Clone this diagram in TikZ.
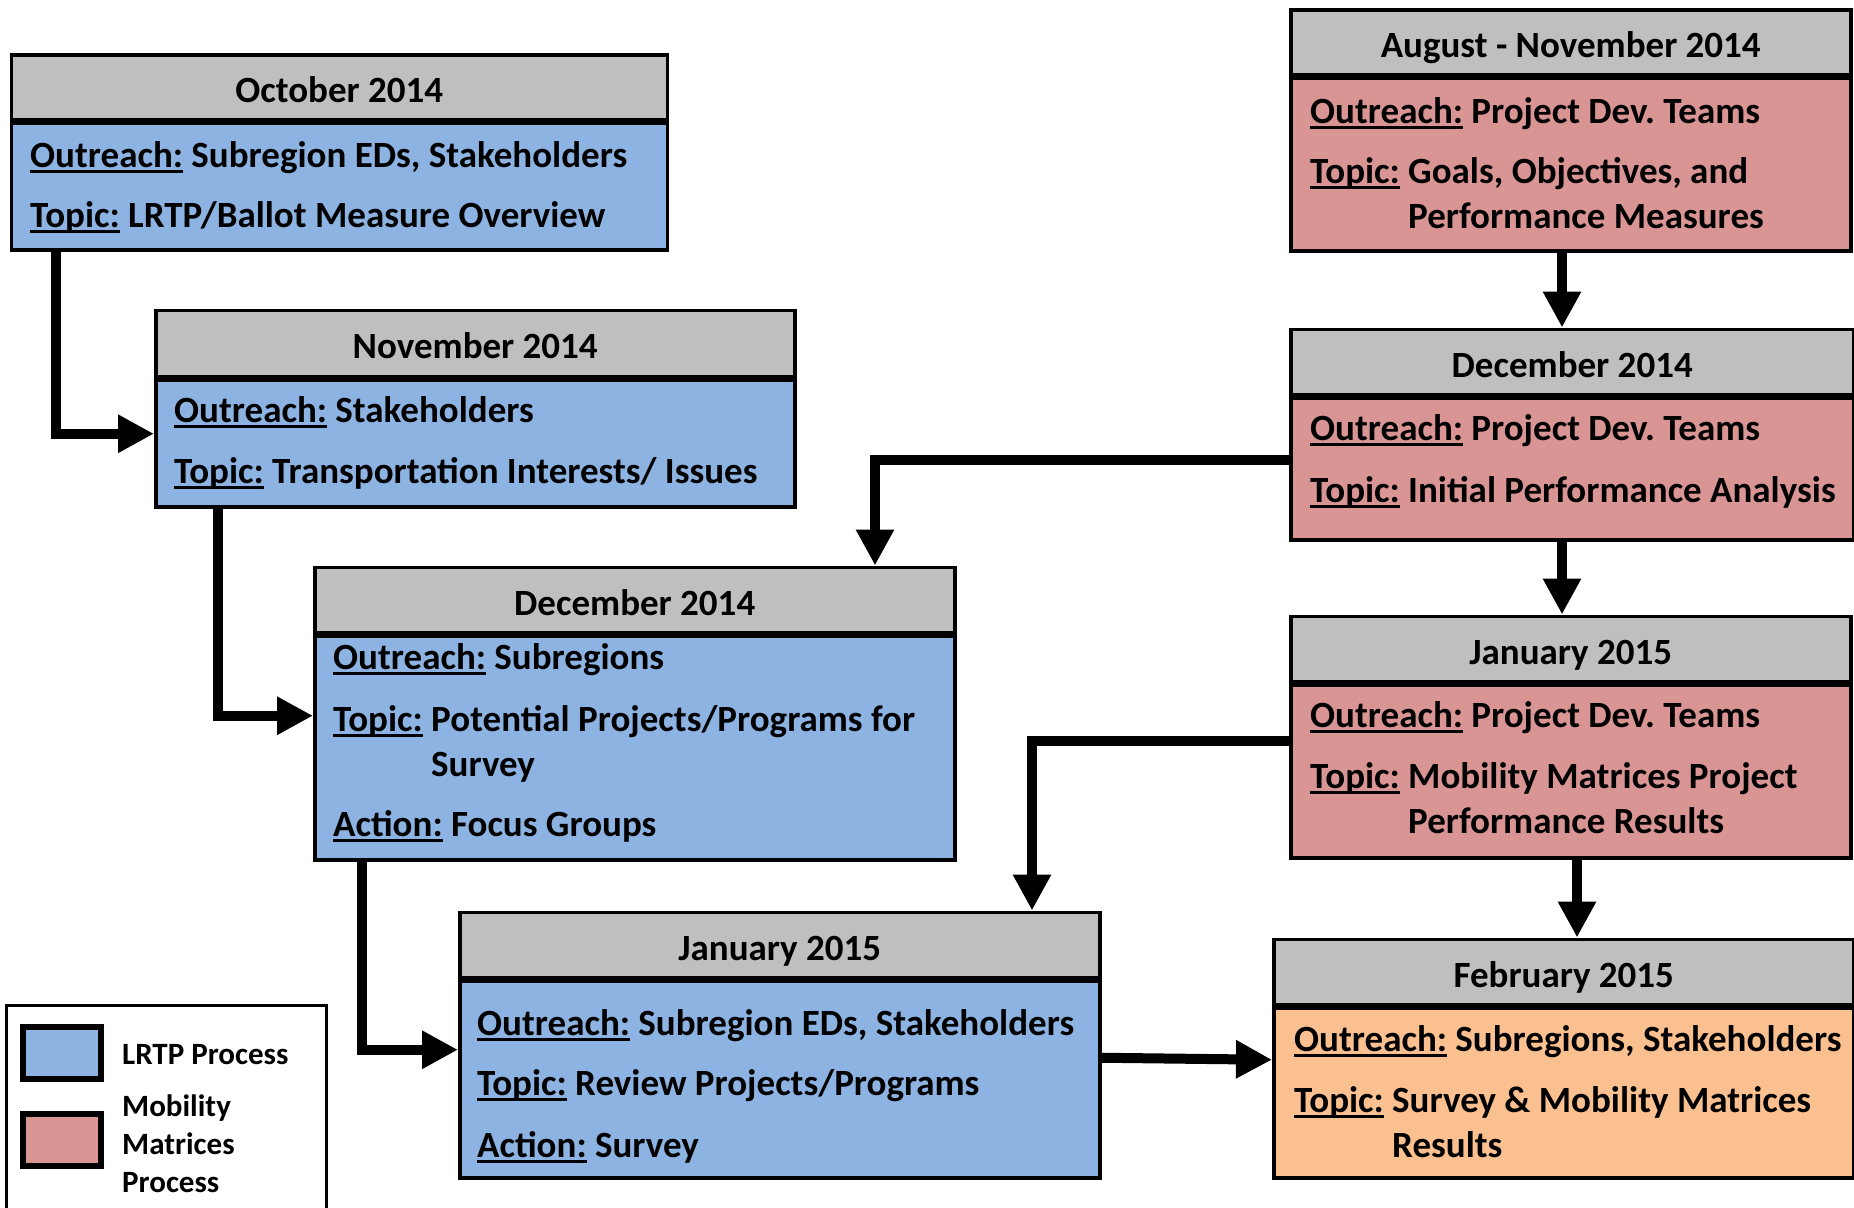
\documentclass[tikz,border=0pt]{standalone}
\usepackage{fontspec}
\setmainfont{Carlito}
\frenchspacing
\usetikzlibrary{arrows.meta,calc}
\definecolor{hdr}{HTML}{BFBFBF}
\definecolor{lrtp}{HTML}{8DB3E2}
\definecolor{mmp}{HTML}{D99594}
\definecolor{fin}{HTML}{FAC090}
\newcommand\ulab[1]{\setbox0=\hbox{#1}\rlap{\rule[-5.5pt]{\wd0}{2.8pt}}\box0\relax}
\newcommand\wrapt[1]{\begin{tabular}[t]{@{}l@{}}#1\end{tabular}}
\tikzset{
 boxbody/.style={draw, line width=3.5pt, rectangle, inner sep=0pt, anchor=north west},
 boxhead/.style={draw, line width=3.5pt, fill=hdr, inner sep=0pt, anchor=south west, text height=30.5pt, text depth=0pt, font=\bfseries\fontsize{37}{44}\selectfont},
 txt/.style={anchor=base west, inner sep=0pt, font=\bfseries\fontsize{37}{45}\selectfont},
 legtxt/.style={anchor=base west, inner sep=0pt, font=\bfseries\fontsize{31}{38}\selectfont},
 arr/.style={line width=10pt, -{Triangle[length=36pt,width=36pt]}},
 swatch/.style={draw, line width=6pt, inner sep=0pt, minimum width=78pt, minimum height=52pt, anchor=north west},
}
\begin{document}
\begin{tikzpicture}[x=1pt,y=-1pt]
\useasboundingbox (0,0) rectangle (1854,1207);
\clip (0,0) rectangle (1854,1207);
% ---------- LRTP boxes ----------
\node[boxbody, fill=lrtp, minimum width=656pt, minimum height=127pt] (b1) at (9.5,121) {};
\node[boxhead, minimum width=656pt, minimum height=64pt] (h1) at (b1.north west) {October 2014};
\node[txt] (t1a) at (30,167) {\ulab{Outreach:} Subregion EDs, Stakeholders};
\node[txt] (t1b) at (30,227) {\ulab{Topic:} LRTP/Ballot Measure Overview};

\node[boxbody, fill=lrtp, minimum width=639pt, minimum height=127pt] (b2) at (154,378) {};
\node[boxhead, minimum width=639pt, minimum height=66pt] (h2) at (b2.north west) {November 2014};
\node[txt] (t2a) at (174,422) {\ulab{Outreach:} Stakeholders};
\node[txt] (t2b) at (174,483) {\ulab{Topic:} Transportation Interests/ Issues};

\node[boxbody, fill=lrtp, minimum width=640pt, minimum height=224pt] (b3) at (313,634) {};
\node[boxhead, minimum width=640pt, minimum height=65pt] (h3) at (b3.north west) {December 2014};
\node[txt] (t3a) at (333,669) {\ulab{Outreach:} Subregions};
\node[txt] (t3b) at (333,731) {\ulab{Topic:} \wrapt{Potential Projects/Programs for\\Survey}};
\node[txt] (t3c) at (333,836) {\ulab{Action:} Focus Groups};

\node[boxbody, fill=lrtp, minimum width=640pt, minimum height=197pt] (b4) at (458,979) {};
\node[boxhead, minimum width=640pt, minimum height=65pt] (h4) at (b4.north west) {January 2015};
\node[txt] (t4a) at (477,1035) {\ulab{Outreach:} Subregion EDs, Stakeholders};
\node[txt] (t4b) at (477,1095) {\ulab{Topic:} Review Projects/Programs};
\node[txt] (t4c) at (477,1157) {\ulab{Action:} Survey};

% ---------- Mobility Matrices boxes ----------
\node[boxbody, fill=mmp, minimum width=560pt, minimum height=173pt] (b5) at (1289,76) {};
\node[boxhead, minimum width=560pt, minimum height=64pt] (h5) at (b5.north west) {August - November 2014};
\node[txt] (t5a) at (1310,123) {\ulab{Outreach:} Project Dev. Teams};
\node[txt] (t5b) at (1310,183) {\ulab{Topic:} \wrapt{Goals, Objectives, and\\Performance Measures}};

\node[boxbody, fill=mmp, minimum width=563pt, minimum height=142pt] (b6) at (1289,396) {};
\node[boxhead, minimum width=563pt, minimum height=65pt] (h6) at (b6.north west) {December 2014};
\node[txt] (t6a) at (1310,440) {\ulab{Outreach:} Project Dev. Teams};
\node[txt] (t6b) at (1310,502) {\ulab{Topic:} Initial Performance Analysis};

\node[boxbody, fill=mmp, minimum width=560pt, minimum height=173pt] (b7) at (1289,683) {};
\node[boxhead, minimum width=560pt, minimum height=65pt] (h7) at (b7.north west) {January 2015};
\node[txt] (t7a) at (1310,727) {\ulab{Outreach:} Project Dev. Teams};
\node[txt] (t7b) at (1310,788) {\ulab{Topic:} \wrapt{Mobility Matrices Project\\Performance Results}};

\node[boxbody, fill=fin, minimum width=580pt, minimum height=170pt] (b8) at (1272,1006) {};
\node[boxhead, minimum width=580pt, minimum height=65pt] (h8) at (b8.north west) {February 2015};
\node[txt] (t8a) at (1294,1051) {\ulab{Outreach:} Subregions, Stakeholders};
\node[txt] (t8b) at (1294,1112) {\ulab{Topic:} \wrapt{Survey \& Mobility Matrices\\Results}};

% ---------- connectors ----------
\draw[arr] ([xshift=46.5pt]b1.south west) |- ([yshift=9.5pt]b2.west);
\draw[arr] ([xshift=64pt]b2.south west) |- ([yshift=32pt]b3.west);
\draw[arr] ([xshift=49pt]b3.south west) |- ([yshift=29.5pt]b4.west);
\draw[arr] ([yshift=21.5pt]b4.east) -- ([yshift=33pt]b8.west);
\draw[arr] ([xshift=273pt]b5.south west) -- ([xshift=273pt]h6.north west);
\draw[arr] ([yshift=9pt]b6.west) -| ([xshift=562pt]h3.north west);
\draw[arr] ([xshift=273pt]b6.south west) -- ([xshift=273pt]h7.north west);
\draw[arr] ([yshift=30.5pt]b7.west) -| ([xshift=574pt]h4.north west);
\draw[arr] ([xshift=288pt]b7.south west) -- ([xshift=305pt]h8.north west);

% ---------- legend ----------
\node[draw, line width=3pt, fill=white, inner sep=0pt, minimum width=320pt, minimum height=215pt, anchor=north west] (leg) at (5,1004) {};
\node[swatch, fill=lrtp] (s1) at (20,1024) {};
\node[swatch, fill=mmp] (s2) at (20,1111) {};
\node[legtxt] (l1) at (122,1064) {LRTP Process};
\node[legtxt] (l2) at (122,1116) {Mobility};
\node[legtxt] (l3) at (122,1154) {Matrices};
\node[legtxt] (l4) at (122,1192) {Process};
\end{tikzpicture}
\end{document}
